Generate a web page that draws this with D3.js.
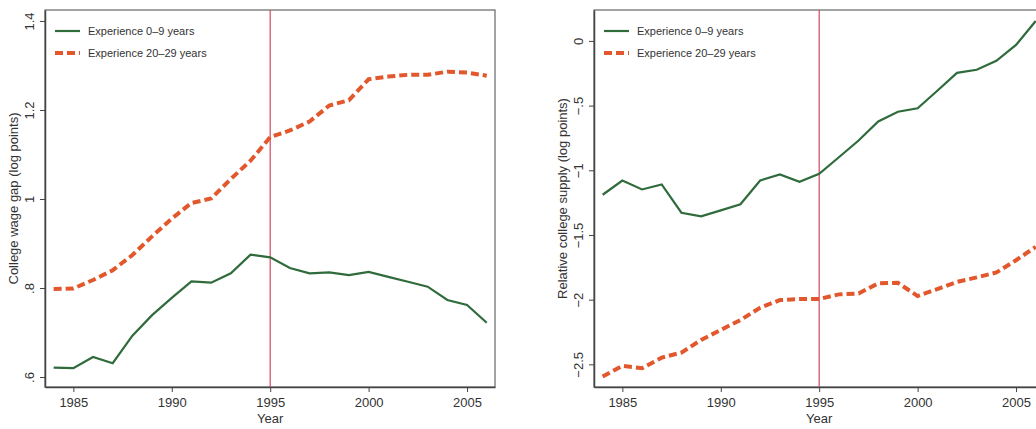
<!DOCTYPE html>
<html>
<head>
<meta charset="utf-8">
<script src="https://cdn.jsdelivr.net/npm/d3@7"></script>
<style>
  body { margin: 0; background: #fff; overflow: hidden; }
  svg { display: block; font-family: "Liberation Sans", Arial, sans-serif; }
</style>
</head>
<body>
<svg id="chart" width="1036" height="429"></svg>
<script>
// years shared by both panels
const years = d3.range(1984, 2007);

// left panel: college wage gap
const wageYoung = [0.621, 0.620, 0.645, 0.631, 0.693, 0.739, 0.778, 0.815, 0.812, 0.833, 0.875, 0.869,
  0.845, 0.833, 0.835, 0.829, 0.836, 0.825, 0.814, 0.803, 0.773, 0.762, 0.722];
const wageOld = [0.798, 0.799, 0.818, 0.840, 0.874, 0.916, 0.956, 0.991, 1.001, 1.045, 1.086, 1.139,
  1.154, 1.174, 1.210, 1.222, 1.269, 1.275, 1.279, 1.279, 1.286, 1.284, 1.277];

// right panel: relative college supply
const supplyYoung = [-1.189, -1.079, -1.148, -1.109, -1.328, -1.356, -1.31, -1.263, -1.079, -1.032, -1.089, -1.027,
  -0.899, -0.770, -0.622, -0.547, -0.521, -0.385, -0.247, -0.223, -0.154, -0.031, 0.154];
const supplyOld = [-2.594, -2.512, -2.530, -2.448, -2.409, -2.311, -2.234, -2.157, -2.062, -2.003, -1.995, -1.995,
  -1.959, -1.952, -1.874, -1.870, -1.972, -1.918, -1.862, -1.828, -1.790, -1.695, -1.592];

const xTicks = [1985, 1990, 1995, 2000, 2005];
const wageTicks = [0.6, 0.8, 1, 1.2, 1.4];
const supplyTicks = [0, -0.5, -1, -1.5, -2, -2.5];
const legendLabels = ["Experience 0\u20139 years", "Experience 20\u201329 years"];
const breakYear = 1995;

const green = "#2f6b3b", orange = "#e2572c", red = "#d4475f";

const svg = d3.select("#chart");

// stata style labels: ".8" instead of "0.8", unicode minus
function stataFmt(v) {
  let s = String(+v.toFixed(2));
  s = s.replace(/^(-?)0\./, "$1.");
  return s.replace("-", "\u2212");
}

function panel(opts) {
  const g = svg.append("g").attr("transform", `translate(${opts.left},10)`);
  const w = 450, h = 377;

  const x = d3.scaleLinear().domain([1983.56, 2006.42]).range([0, w]);
  const y = d3.scaleLinear().domain(opts.yDomain).range([h, 0]);

  // frame
  g.append("rect").attr("width", w).attr("height", h)
    .attr("fill", "none").attr("stroke", "#666").attr("stroke-width", 1.2);

  const xAxis = g.append("g").attr("transform", `translate(0,${h})`)
    .call(d3.axisBottom(x).tickValues(xTicks).tickFormat(d3.format("d")).tickSize(5).tickSizeOuter(0));
  xAxis.select(".domain").attr("stroke", "#444").attr("stroke-width", 1.5);
  xAxis.selectAll(".tick line").attr("stroke", "#444");
  xAxis.selectAll("text").attr("font-size", 13).attr("fill", "#333").attr("dy", "0.95em");

  const yAxis = g.append("g")
    .call(d3.axisLeft(y).tickValues(opts.yTicks).tickFormat(stataFmt).tickSize(5).tickSizeOuter(0));
  yAxis.select(".domain").attr("stroke", "#444").attr("stroke-width", 1.5);
  yAxis.selectAll(".tick line").attr("stroke", "#444");
  yAxis.selectAll("text")
    .attr("font-size", 13).attr("fill", "#333")
    .attr("x", null).attr("dy", null)
    .attr("text-anchor", "middle")
    .attr("transform", "translate(-11,0) rotate(-90)");

  // vertical line at 1995
  g.append("line")
    .attr("x1", x(breakYear)).attr("x2", x(breakYear))
    .attr("y1", 0).attr("y2", h)
    .attr("stroke", red).attr("stroke-width", 1.2);

  const line = d3.line().x((d, i) => x(years[i])).y(d => y(d));

  g.append("path").datum(opts.old)
    .attr("d", line).attr("fill", "none")
    .attr("stroke", orange).attr("stroke-width", 4)
    .attr("stroke-dasharray", "8,4");

  g.append("path").datum(opts.young)
    .attr("d", line).attr("fill", "none")
    .attr("stroke", green).attr("stroke-width", 2.2);

  // legend
  const lg = g.append("g").attr("transform", "translate(10,21)");
  legendLabels.forEach((lab, i) => {
    const yy = i * 22;
    lg.append("line").attr("x1", 0).attr("x2", 25).attr("y1", yy).attr("y2", yy)
      .attr("stroke", i === 0 ? green : orange)
      .attr("stroke-width", i === 0 ? 2.2 : 4)
      .attr("stroke-dasharray", i === 0 ? null : "8,4");
    lg.append("text").attr("x", 33).attr("y", yy).attr("dy", "0.35em")
      .attr("font-size", 11).attr("fill", "#333")
      .text(lab);
  });

  svg.append("text")
    .attr("transform", `translate(${opts.left - 27},${10 + h / 2}) rotate(-90)`)
    .attr("text-anchor", "middle").attr("font-size", 13).attr("fill", "#333")
    .text(opts.yTitle);

  svg.append("text")
    .attr("x", opts.left + x(1995)).attr("y", 423)
    .attr("text-anchor", "middle").attr("font-size", 13).attr("fill", "#333")
    .text("Year");
}

panel({
  left: 45,
  yDomain: [0.5776, 1.4246],
  yTicks: wageTicks,
  young: wageYoung,
  old: wageOld,
  yTitle: "College wage gap (log points)"
});

panel({
  left: 594,
  yDomain: [-2.675, 0.239],
  yTicks: supplyTicks,
  young: supplyYoung,
  old: supplyOld,
  yTitle: "Relative college supply (log points)"
});
</script>
</body>
</html>
